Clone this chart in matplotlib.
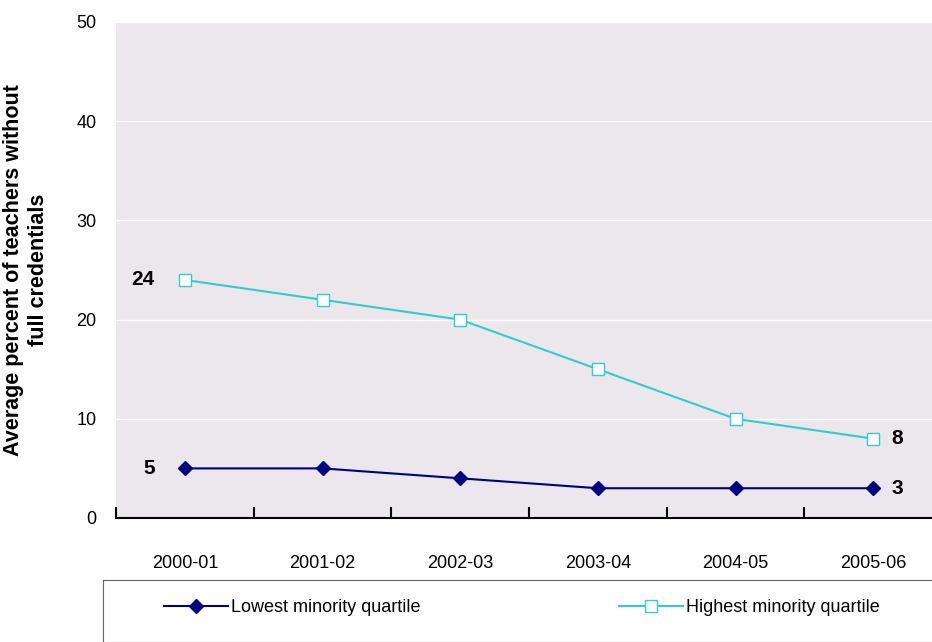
import matplotlib.pyplot as plt
from matplotlib.lines import Line2D

years = ["2000-01", "2001-02", "2002-03", "2003-04", "2004-05", "2005-06"]
lowest = [5, 5, 4, 3, 3, 3]
highest = [24, 22, 20, 15, 10, 8]

plt.rcParams['font.family'] = ['Liberation Sans', 'DejaVu Sans']

fig = plt.figure(figsize=(9.32, 6.42), dpi=100)
ax = fig.add_axes([116/932, 1-518/642, 826/932, 496/642])
ax.set_facecolor('#ebe7ec')
x = list(range(len(years)))

ax.plot(x, highest, color='#33cccc', marker='s', markersize=8,
        markerfacecolor='white', markeredgecolor='#33cccc', lw=1.5, zorder=3)
ax.plot(x, lowest, color='#000080', marker='D', markersize=7, lw=1.5, zorder=3)

ax.set_xlim(-0.5, 5.5)
ax.set_ylim(0, 50)
ax.set_yticks(range(0, 51, 10))
ax.yaxis.grid(True, color='white', lw=1)
ax.set_axisbelow(True)
ax.set_xticks([i - 0.5 for i in range(7)])
ax.set_xticklabels([])
ax.set_xticks(x, minor=True)
ax.set_xticklabels(years, minor=True, fontsize=13)
ax.tick_params(axis='x', which='major', length=8, width=1.5, direction='in', color='black')
ax.tick_params(axis='x', which='minor', length=0, pad=27)
ax.tick_params(axis='y', length=0, labelsize=13, pad=14)
for s in ['top', 'right', 'left']:
    ax.spines[s].set_visible(False)
ax.spines['bottom'].set_linewidth(1.5)

ax.set_ylabel("Average percent of teachers without\nfull credentials",
              fontsize=15.5, fontweight='bold', labelpad=20)

kw = dict(va='center', fontsize=15, fontweight='bold')
ax.text(-0.22, highest[0], str(highest[0]), ha='right', **kw)
ax.text(-0.22, lowest[0], str(lowest[0]), ha='right', **kw)
ax.text(5.13, highest[-1], str(highest[-1]), ha='left', **kw)
ax.text(5.13, lowest[-1], str(lowest[-1]), ha='left', **kw)

lax = fig.add_axes([103/932, 0, 1 - 103/932 + 0.01, 62/642])
lax.set_xticks([]); lax.set_yticks([])
for s in lax.spines.values():
    s.set_color('#666666')
handles = [
    Line2D([], [], color='#000080', marker='D', markersize=7, lw=1.5),
    Line2D([], [], color='#33cccc', marker='s', markersize=8, markerfacecolor='white', lw=1.5),
]
lax.legend(handles, ["Lowest minority quartile", "Highest minority quartile"],
           loc='center', ncol=2, frameon=False, fontsize=13, handlelength=3.5,
           columnspacing=11, handletextpad=0.2, bbox_to_anchor=(0.5, 0.55))

fig.savefig('out.png', dpi=100)
